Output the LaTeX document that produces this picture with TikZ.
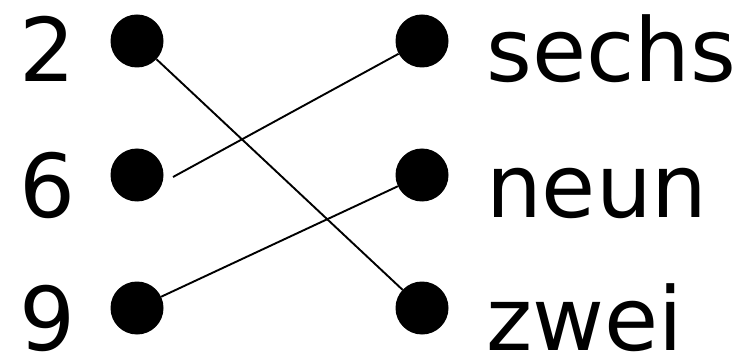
\documentclass[tikz,border=0pt]{standalone}
\usepackage{fontspec}
\setmainfont{DejaVu Sans}
\begin{document}
\begin{tikzpicture}[x=1pt,y=-1pt,
  dot/.style={circle,fill=black,draw=none,minimum size=53pt,inner sep=0pt},
  lbl/.style={inner sep=0pt,font=\fontsize{88}{88}\selectfont},
  link/.style={line width=1.9pt,black}]
\useasboundingbox (0,0) rectangle (749,358);
% digits
\node[lbl,anchor=base] (t2) at (47,82) {2};
\node[lbl,anchor=base] (t6) at (47,218) {6};
\node[lbl,anchor=base] (t9) at (47,350) {9};
% words
\node[lbl,anchor=base west] (ts) at (486,82) {sechs};
\node[lbl,anchor=base west] (tn) at (486,218) {neun};
\node[lbl,anchor=base west] (tz) at (486,350) {zwei};
% dots
\node[dot] (d2) at (137,41) {};
\node[dot] (d6) at (137,175) {};
\node[dot] (d9) at (137,308) {};
\node[dot] (ds) at (422,41) {};
\node[dot] (dn) at (422,175) {};
\node[dot] (dz) at (422,308) {};
\coordinate (c6) at (173,177);
% connectors
\draw[link] (d2) -- (dz);
\draw[link] (c6) -- (ds);
\draw[link] (d9) -- (dn);
\end{tikzpicture}
\end{document}
